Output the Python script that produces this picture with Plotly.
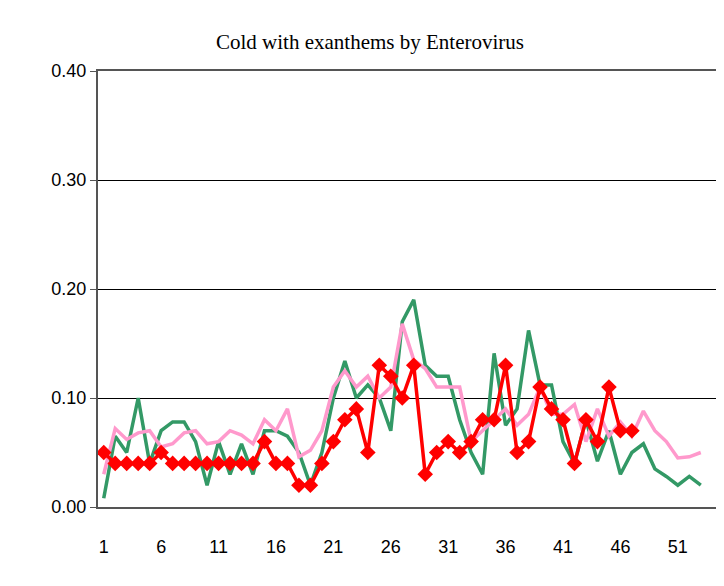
import plotly.graph_objects as go

weeks = list(range(1, 54))

green = [0.008, 0.065, 0.05, 0.10, 0.04, 0.07, 0.078, 0.078, 0.06, 0.02,
         0.06, 0.03, 0.058, 0.03, 0.07, 0.07, 0.065, 0.05, 0.02, 0.05,
         0.10, 0.134, 0.10, 0.112, 0.10, 0.07, 0.17, 0.19, 0.13, 0.12,
         0.12, 0.08, 0.05, 0.03, 0.141, 0.075, 0.09, 0.162, 0.112, 0.112,
         0.06, 0.04, 0.08, 0.042, 0.07, 0.03, 0.05, 0.058, 0.035, 0.028,
         0.02, 0.028, 0.02]

pink = [0.03, 0.072, 0.062, 0.068, 0.07, 0.055, 0.058, 0.068, 0.07, 0.058,
        0.06, 0.07, 0.066, 0.058, 0.08, 0.07, 0.09, 0.046, 0.052, 0.07,
        0.11, 0.125, 0.11, 0.12, 0.10, 0.11, 0.168, 0.135, 0.127, 0.11,
        0.11, 0.11, 0.06, 0.07, 0.08, 0.09, 0.075, 0.085, 0.11, 0.085,
        0.085, 0.094, 0.06, 0.09, 0.065, 0.078, 0.065, 0.088, 0.07, 0.06,
        0.045, 0.046, 0.05]

red = [0.05, 0.04, 0.04, 0.04, 0.04, 0.05, 0.04, 0.04, 0.04, 0.04,
       0.04, 0.04, 0.04, 0.04, 0.06, 0.04, 0.04, 0.02, 0.02, 0.04,
       0.06, 0.08, 0.09, 0.05, 0.13, 0.12, 0.10, 0.13, 0.03, 0.05,
       0.06, 0.05, 0.06, 0.08, 0.08, 0.13, 0.05, 0.06, 0.11, 0.09,
       0.08, 0.04, 0.08, 0.06, 0.11, 0.07, 0.07]

fig = go.Figure()
fig.add_trace(go.Scatter(x=weeks, y=green, mode="lines",
                         line=dict(color="#339966", width=3.5)))
fig.add_trace(go.Scatter(x=weeks[:len(pink)], y=pink, mode="lines",
                         line=dict(color="#ff99cc", width=3.5)))
fig.add_trace(go.Scatter(x=weeks[:len(red)], y=red, mode="lines+markers",
                         line=dict(color="#ff0000", width=3.5),
                         marker=dict(symbol="diamond", size=12, color="#ff0000")))

fig.update_layout(
    width=724, height=586,
    paper_bgcolor="white", plot_bgcolor="white",
    showlegend=False,
    margin=dict(l=90, r=14, t=63, b=87),
    title=dict(text="Cold with exanthems by Enterovirus", x=0.5, y=0.955,
               xanchor="center", font=dict(family="Liberation Serif", size=21, color="black")),
    font=dict(family="Liberation Sans", size=18, color="black"),
)
fig.update_xaxes(range=[0.5, 54.5], tickvals=list(range(1, 54, 5)),
                 showgrid=False, showline=True, linecolor="#555", linewidth=2,
                 mirror=True, ticks="", zeroline=False, ticklabelstandoff=22)
fig.update_yaxes(range=[0, 0.4], tickvals=[0, 0.1, 0.2, 0.3, 0.4],
                 tickformat=".2f", showgrid=True, gridcolor="black", gridwidth=1,
                 showline=True, linecolor="#555", linewidth=2, mirror=True,
                 ticks="outside", ticklen=6, tickcolor="#555", zeroline=False)

fig.write_html("out.html")
